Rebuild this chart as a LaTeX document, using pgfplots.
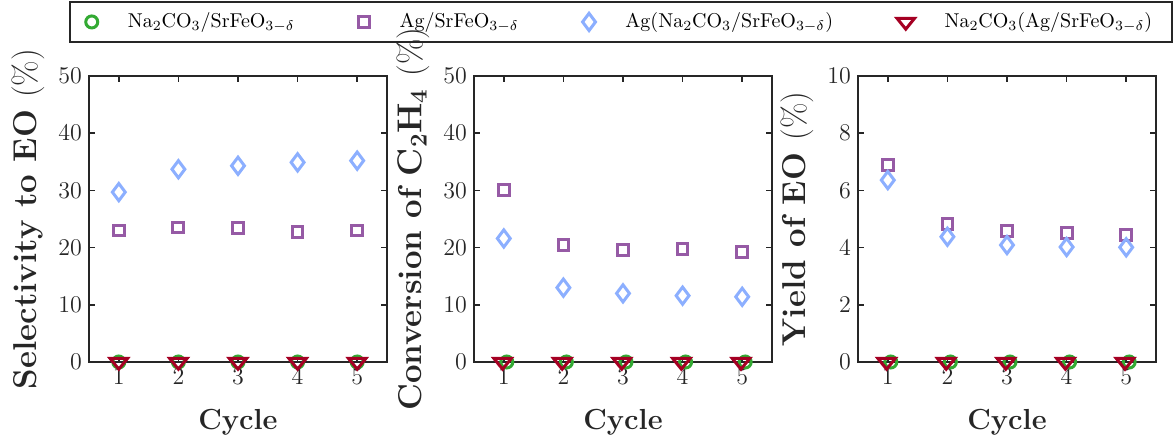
\documentclass[border=0pt]{standalone}
\usepackage{pgfplots}
\pgfplotsset{compat=1.18}
\definecolor{axisgray}{RGB}{38,38,38}
\definecolor{cgreen}{RGB}{51,170,51}
\definecolor{cpurple}{RGB}{150,90,165}
\definecolor{cblue}{RGB}{140,175,255}
\definecolor{cred}{RGB}{165,0,35}
\pgfplotsset{
 panel/.style={
  scale only axis, width=149pt, height=143pt,
  xmin=0.5, xmax=5.5, xtick={1,2,3,4,5},
  tick align=inside, xtick pos=both, ytick pos=both,
  axis line style={line width=0.8pt, color=axisgray},
  every tick/.style={line width=0.8pt, color=axisgray},
  major tick length=3pt,
  tick label style={font=\fontsize{13}{15}\selectfont, color=black!85},
  xlabel style={font=\fontsize{14.5}{17}\selectfont\bfseries, color=black!85, yshift=-5.5pt},
  ylabel style={font=\fontsize{16.5}{19}\selectfont\bfseries, color=black!85},
  xlabel={Cycle},
  clip=false,
 },
 sg/.style={only marks, mark=o, mark size=3pt, mark options={draw=cgreen, line width=1.5pt}},
 sp/.style={only marks, mark=square, mark size=2.7pt, mark options={draw=cpurple, line width=1.5pt}},
 sb/.style={only marks, mark=diamond, mark size=4.3pt, mark options={draw=cblue, line width=1.5pt}},
 sr/.style={only marks, mark=triangle, mark size=3.6pt, mark options={draw=cred, line width=1.5pt, rotate=180, xscale=1.4}},
}
\begin{document}
\begin{tikzpicture}
\useasboundingbox (0,0) rectangle (586.5pt,220pt);
% Panel 1
\begin{axis}[panel, at={(44.5pt,39pt)}, anchor=south west,
  ymin=0, ymax=50, ytick={0,10,20,30,40,50},
  ylabel={Selectivity to EO {\mdseries(\%)}},
  legend columns=4,
  legend style={at={(1.785,1.189)}, anchor=center, draw=axisgray, line width=0.8pt,
    font=\fontsize{10}{12}\selectfont, inner xsep=8pt, inner ysep=3.5pt,
    /tikz/every even column/.append style={column sep=30pt}},
  ]
\addplot[sg] coordinates {(1,0) (2,0) (3,0) (4,0) (5,0)};
\addlegendentry{\hspace{13pt}Na$_2$CO$_3$/SrFeO$_{3-\delta}$}
\addplot[sp] coordinates {(1,23.0) (2,23.5) (3,23.4) (4,22.7) (5,23.0)};
\addlegendentry{\hspace{13pt}Ag/SrFeO$_{3-\delta}$}
\addplot[sb] coordinates {(1,29.7) (2,33.7) (3,34.3) (4,34.9) (5,35.2)};
\addlegendentry{\hspace{13pt}Ag(Na$_2$CO$_3$/SrFeO$_{3-\delta}$)}
\addplot[sr] coordinates {(1,0) (2,0) (3,0) (4,0) (5,0)};
\addlegendentry{\hspace{13pt}Na$_2$CO$_3$(Ag/SrFeO$_{3-\delta}$)}
\end{axis}
% Panel 2
\begin{axis}[panel, at={(237pt,39pt)}, anchor=south west,
  ymin=0, ymax=50, ytick={0,10,20,30,40,50},
  ylabel={Conversion of {\boldmath$\mathrm{C_2H_4}$} {\mdseries(\%)}},
  ]
\addplot[sg] coordinates {(1.05,0) (2.05,0) (3.05,0) (4.05,0) (5.05,0)};
\addplot[sp] coordinates {(1,30.1) (2,20.5) (3,19.6) (4,19.8) (5,19.3)};
\addplot[sb] coordinates {(1,21.6) (2,13.0) (3,12.0) (4,11.6) (5,11.4)};
\addplot[sr] coordinates {(0.98,0) (1.98,0) (2.98,0) (3.98,0) (4.98,0)};
\end{axis}
% Panel 3
\begin{axis}[panel, at={(429pt,39pt)}, anchor=south west,
  ymin=0, ymax=10, ytick={0,2,4,6,8,10},
  ylabel={Yield of EO {\mdseries(\%)}},
  ]
\addplot[sg] coordinates {(1.05,0) (2.05,0) (3.05,0) (4.05,0) (5.05,0)};
\addplot[sp] coordinates {(1,6.89) (2,4.83) (3,4.58) (4,4.50) (5,4.43)};
\addplot[sb] coordinates {(1,6.36) (2,4.38) (3,4.09) (4,4.02) (5,4.01)};
\addplot[sr] coordinates {(0.98,0) (1.98,0) (2.98,0) (3.98,0) (4.98,0)};
\end{axis}
\end{tikzpicture}
\end{document}
